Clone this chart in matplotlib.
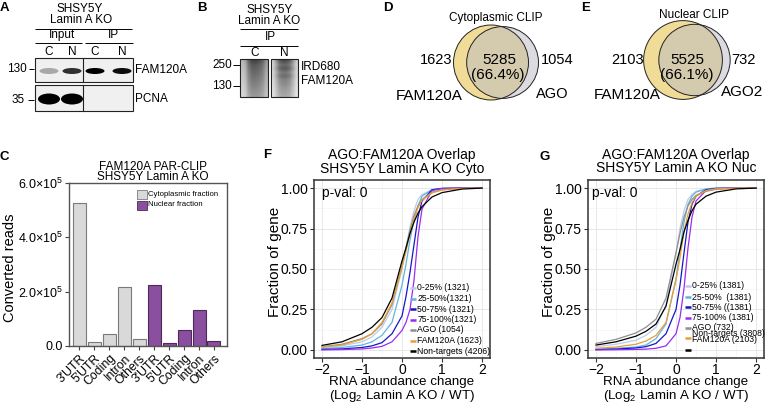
import numpy as np
import matplotlib.pyplot as plt
from matplotlib.patches import Rectangle, Ellipse, Circle
from matplotlib.ticker import MultipleLocator

plt.rcParams['font.family'] = ['Liberation Sans', 'DejaVu Sans']
plt.rcParams['mathtext.fontset'] = 'custom'
plt.rcParams['mathtext.rm'] = 'Liberation Sans'
plt.rcParams['mathtext.it'] = 'Liberation Sans:italic'
plt.rcParams['mathtext.bf'] = 'Liberation Sans:bold'

# ---- data ----
# A: western blot band darkness (Input C, Input N, IP C, IP N)
fam120a_band = [0.3, 0.8, 1.0, 0.95]
pcna_band = [1.0, 1.0, 0.0, 0.0]
# B: IRD680 smear darkness, rows top->bottom and columns across the lane
laneC_rows = [1.0, 0.9, 0.85, 0.8, 0.76, 0.72, 0.68, 0.64, 0.6, 0.56]
laneC_cols = [0.35, 0.45, 0.8, 0.95, 0.95, 0.9, 0.8, 0.55]
laneN_rows = [0.95, 0.8, 0.88, 0.72, 0.78, 0.66, 0.62, 0.56, 0.52, 0.48]
laneN_cols = [0.25, 0.55, 0.85, 0.95, 0.95, 0.85, 0.6, 0.3]

# D/E: venn counts (FAM120A only, shared, AGO only)
cyto_venn = [1623, 5285, 1054]
nuc_venn = [2103, 5525, 732]

# C: converted reads
regions = ["3'UTR", "5'UTR", "Coding", "Intron", "Others"]
cyto_reads = [5.27e5, 1.5e4, 4.3e4, 2.16e5, 2.6e4]
nuc_reads = [2.26e5, 1.0e4, 5.8e4, 1.31e5, 1.8e4]

# F/G: cumulative fraction of genes vs log2 fold change
cdf_x = [-2, -1.5, -1, -0.75, -0.5, -0.25, 0, 0.1, 0.2, 0.3, 0.4, 0.5, 0.75, 1, 1.5, 2]
cyto_q1 = [0.015, 0.025, 0.05, 0.08, 0.14, 0.25, 0.50, 0.63, 0.76, 0.86, 0.93, 0.96, 0.99, 0.998, 1.0, 1.0]
cyto_q2 = [0.008, 0.015, 0.03, 0.05, 0.09, 0.17, 0.40, 0.53, 0.68, 0.80, 0.89, 0.95, 0.99, 0.998, 1.0, 1.0]
cyto_q3 = [0.003, 0.006, 0.015, 0.025, 0.045, 0.10, 0.21, 0.33, 0.48, 0.65, 0.82, 0.92, 0.99, 0.998, 1.0, 1.0]
cyto_q4 = [0.0, 0.002, 0.006, 0.012, 0.022, 0.05, 0.12, 0.17, 0.25, 0.43, 0.70, 0.87, 0.985, 0.997, 1.0, 1.0]
cyto_ago = [0.02, 0.035, 0.07, 0.10, 0.16, 0.28, 0.52, 0.63, 0.74, 0.83, 0.89, 0.93, 0.975, 0.99, 0.998, 1.0]
cyto_fam = [0.018, 0.03, 0.065, 0.10, 0.17, 0.29, 0.51, 0.61, 0.72, 0.81, 0.88, 0.925, 0.97, 0.988, 0.998, 1.0]
cyto_non = [0.028, 0.05, 0.10, 0.14, 0.20, 0.32, 0.55, 0.63, 0.72, 0.79, 0.845, 0.885, 0.945, 0.972, 0.994, 1.0]

nuc_q1 = [0.02, 0.035, 0.06, 0.09, 0.14, 0.28, 0.60, 0.75, 0.86, 0.93, 0.96, 0.98, 0.995, 1.0, 1.0, 1.0]
nuc_q2 = [0.005, 0.01, 0.018, 0.03, 0.07, 0.16, 0.44, 0.62, 0.79, 0.90, 0.95, 0.975, 0.995, 1.0, 1.0, 1.0]
nuc_q3 = [0.002, 0.005, 0.012, 0.02, 0.04, 0.10, 0.25, 0.40, 0.60, 0.79, 0.90, 0.95, 0.99, 0.998, 1.0, 1.0]
nuc_q4 = [0.0, 0.001, 0.003, 0.005, 0.01, 0.025, 0.10, 0.20, 0.38, 0.63, 0.82, 0.92, 0.985, 0.997, 1.0, 1.0]
nuc_ago = [0.04, 0.065, 0.105, 0.14, 0.19, 0.32, 0.60, 0.72, 0.82, 0.89, 0.93, 0.955, 0.98, 0.992, 0.999, 1.0]
nuc_fam = [0.01, 0.018, 0.035, 0.055, 0.09, 0.17, 0.43, 0.57, 0.73, 0.84, 0.91, 0.95, 0.985, 0.995, 1.0, 1.0]
nuc_non = [0.03, 0.05, 0.085, 0.115, 0.16, 0.27, 0.53, 0.62, 0.73, 0.80, 0.86, 0.90, 0.95, 0.975, 0.995, 1.0]

cyto_labels = ["0-25% (1321)", "25-50%(1321)", "50-75% (1321)", "75-100%(1321)",
               "AGO (1054)", "FAM120A (1623)", "Non-targets (4206)"]
nuc_labels = ["0-25% (1381)", "25-50%  (1381)", "50-75% ((1381)", "75-100% (1381)",
              "AGO (732)", "Non-targets (3808)", "FAM120A (2103)"]

curve_colors = ["#bccbea", "#5db5e6", "#1616c8", "#9a2cf0", "#8f8f8f", "#e8a030", "black"]

# ---- layout helpers (pixel units) ----
W, H = 765, 404
fig = plt.figure(figsize=(W / 100, H / 100), dpi=100)


def px_box(l, t, r, b):
    return [l / W, 1 - b / H, (r - l) / W, (b - t) / H]


ov = fig.add_axes([0, 0, 1, 1])
ov.set_xlim(0, W)
ov.set_ylim(H, 0)
ov.axis('off')
ov.set_zorder(10)


def txt(x, y, s, size=8.5, ha='center', **kw):
    ov.text(x, y, s, fontsize=size, ha=ha, va='center', **kw)


def hline(x0, x1, y, lw=0.7):
    ov.plot([x0, x1], [y, y], color='k', lw=lw, solid_capstyle='butt')


for lab, x, y in [("A", 0, 8), ("B", 197, 8), ("D", 383, 8), ("E", 581, 8),
                  ("C", 0, 157), ("F", 263, 155), ("G", 540, 157)]:
    txt(x, y, lab, size=9.5, ha='left', weight='bold')

# ---- A: blot ----
txt(80, 9.5, "SHSY5Y")
txt(81, 20, "Lamin A KO")
hline(35, 132, 28.5)
txt(62, 35, "Input")
txt(113, 35, "IP")
hline(35, 82, 43)
hline(85, 133, 43)
lane_x = [49, 72, 95, 122]
for x, s in zip(lane_x, ["C", "N", "C", "N"]):
    txt(x, 52, s)
bg = np.array([0.94, 0.94, 0.94])
for top, bot, bands, bw, bh in [(58, 82, fam120a_band, 19, 6), (85, 111, pcna_band, 22, 11)]:
    ov.add_patch(Rectangle((35, top), 98, bot - top, fc=bg, ec='#222', lw=0.8))
    ov.plot([83.5, 83.5], [top, bot], color='#222', lw=0.8)
    yc = (top + bot) / 2 + 1
    for x, d in zip(lane_x, bands):
        if d > 0:
            ov.add_patch(Ellipse((x, yc), bw, bh, fc=bg * (1 - d), ec='none'))
txt(27, 68.5, "130", ha='right')
hline(29, 34, 68.5)
txt(25, 100, "35", ha='right')
hline(28, 34, 100)
txt(135, 70, "FAM120A", ha='left')
txt(135, 99, "PCNA", ha='left')

# ---- B: IRD680 smear ----
txt(270, 10, "SHSY5Y")
txt(269, 21, "Lamin A KO")
hline(240, 298, 29)
txt(270, 37.5, "IP")
hline(240, 298, 46)
txt(255, 53, "C")
txt(284, 53, "N")
for (l, r), rows, cols in [((240, 268), laneC_rows, laneC_cols), ((271, 298), laneN_rows, laneN_cols)]:
    ov.imshow(np.outer(rows, cols), cmap='gray_r', vmin=0, vmax=1.3, extent=(l, r, 97, 59),
              aspect='auto', interpolation='bilinear')
    ov.add_patch(Rectangle((l, 59), r - l, 38, fill=False, ec='#222', lw=0.8))
txt(232, 64.5, "250", ha='right')
hline(233, 240, 64.5)
txt(232, 86, "130", ha='right')
hline(233, 240, 86)
txt(301, 67, "IRD680", ha='left')
txt(301, 81, "FAM120A", ha='left')
ov.set_xlim(0, W)
ov.set_ylim(H, 0)

# ---- D/E: venns ----
VENN_SCALE = 0.451  # px per sqrt(gene)


def lens_area(d, r1, r2):
    if d >= r1 + r2:
        return 0.0
    if d <= abs(r1 - r2):
        return np.pi * min(r1, r2) ** 2
    a1 = r1 ** 2 * np.arccos((d * d + r1 * r1 - r2 * r2) / (2 * d * r1))
    a2 = r2 ** 2 * np.arccos((d * d + r2 * r2 - r1 * r1) / (2 * d * r2))
    a3 = 0.5 * np.sqrt((-d + r1 + r2) * (d + r1 - r2) * (d - r1 + r2) * (d + r1 + r2))
    return a1 + a2 - a3


def draw_venn(cx, cy, counts):
    only_a, both, only_b = counts
    ra = VENN_SCALE * np.sqrt(only_a + both)
    rb = VENN_SCALE * np.sqrt(only_b + both)
    target = np.pi * VENN_SCALE ** 2 * both
    lo, hi = abs(ra - rb), ra + rb
    for _ in range(60):
        mid = 0.5 * (lo + hi)
        if lens_area(mid, ra, rb) > target:
            lo = mid
        else:
            hi = mid
    d = 0.5 * (lo + hi)
    ov.add_patch(Circle((cx, cy), ra, fc="#f0dc96", ec='none'))
    ov.add_patch(Circle((cx + d, cy), rb, fc="#b9b9c4", alpha=0.5, ec='none'))
    ov.add_patch(Circle((cx, cy), ra, fill=False, ec='#222', lw=0.7))
    ov.add_patch(Circle((cx + d, cy), rb, fill=False, ec='#222', lw=0.7))
    return 100.0 * both / sum(counts)


pct = draw_venn(491, 62.5, cyto_venn)
txt(496, 17.5, "Cytoplasmic CLIP", size=8.5)
txt(452, 59.5, str(cyto_venn[0]), ha='right', size=10.5)
txt(499, 60, str(cyto_venn[1]), size=11)
txt(498, 75.5, f"({pct:.1f}%)", size=11)
txt(541, 59.5, str(cyto_venn[2]), ha='left', size=10.5)
txt(429, 96.5, "FAM120A", size=11)
txt(552, 93.5, "AGO", size=10.5)

pct = draw_venn(683, 60, nuc_venn)
txt(694, 15.5, "Nuclear CLIP", size=8.5)
txt(644, 60.5, str(nuc_venn[0]), ha='right', size=10.5)
txt(687, 60, str(nuc_venn[1]), size=11)
txt(687, 75, f"({pct:.1f}%)", size=11)
txt(731, 60, str(nuc_venn[2]), ha='left', size=10.5)
txt(627, 95, "FAM120A", size=11)
txt(742, 92, "AGO2", size=11)

# ---- C: bar chart ----
axc = fig.add_axes(px_box(69, 183, 227, 346))
xpos = np.arange(len(regions) * 2)
axc.bar(xpos[:5], cyto_reads, width=0.87, color="#d9d9d9", edgecolor="#7a7a7a", linewidth=0.8)
axc.bar(xpos[5:], nuc_reads, width=0.87, color="#8a4f9e", edgecolor="#4d2a5a", linewidth=0.8)
axc.set_xlim(-0.69, 9.87)
axc.set_ylim(0, 6e5)
axc.set_yticks([0, 2e5, 4e5, 6e5])
axc.set_yticklabels(["0.0", "2.0×10$^5$", "4.0×10$^5$", "6.0×10$^5$"])
axc.set_xticks(xpos)
axc.set_xticklabels(regions * 2, rotation=45, ha='right', rotation_mode='anchor')
axc.tick_params(axis='y', length=3, width=0.8, labelsize=9, pad=1.5, color='#444')
axc.tick_params(axis='x', length=3, width=0.8, labelsize=8.8, pad=1.5, color='#444')
for sp in axc.spines.values():
    sp.set_color('#555555')
    sp.set_linewidth(1.0)
txt(153, 166.5, "FAM120A PAR-CLIP", size=8.5)
txt(153, 177.5, "SHSY5Y Lamin A KO", size=8.5)
txt(10, 268, "Converted reads", size=10.5, rotation=90)
ov.add_patch(Rectangle((137, 190), 10, 9, fc="#d9d9d9", ec="#7a7a7a", lw=0.6))
ov.add_patch(Rectangle((137, 200.5), 10, 9, fc="#8a4f9e", ec="#4d2a5a", lw=0.6))
txt(148.5, 194.5, "Cytoplasmic fraction", size=5.6, ha='left')
txt(148.5, 205, "Nuclear fraction", size=5.6, ha='left')


# ---- F/G: cumulative plots ----
def cdf_panel(box, curves, subtitle, xc, pval_x):
    ax = fig.add_axes(px_box(*box))
    for y, c in zip(curves, curve_colors):
        ax.plot(cdf_x, y, color=c, lw=0.9)
    ax.set_xlim(-2.2, 2.2)
    ax.set_ylim(-0.05, 1.05)
    ax.set_xticks([-2, -1, 0, 1, 2])
    ax.set_yticks([0, 0.25, 0.5, 0.75, 1.0])
    ax.set_yticklabels(["0.00", "0.25", "0.50", "0.75", "1.00"])
    ax.xaxis.set_minor_locator(MultipleLocator(0.5))
    ax.yaxis.set_minor_locator(MultipleLocator(0.125))
    ax.grid(which='major', color='#e3e3e3', lw=0.6)
    ax.grid(which='minor', color='#f1f1f1', lw=0.4)
    ax.set_axisbelow(True)
    ax.tick_params(which='major', length=3, width=0.8, color='#333333', labelsize=10, pad=1.5)
    ax.tick_params(axis='x', pad=0.8)
    ax.tick_params(which='minor', length=0)
    for sp in ax.spines.values():
        sp.set_color('#333333')
        sp.set_linewidth(1.1)
    txt(xc, 154.5, "AGO:FAM120A Overlap", size=10)
    txt(xc, 168.5, subtitle, size=10)
    txt(xc, 382.3, "RNA abundance change", size=9.6)
    txt(xc, 396, "(Log$_2$ Lamin A KO / WT)", size=9.6)
    txt(box[0] - 39, 262, "Fraction of gene", size=11, rotation=90)
    txt(pval_x, 193, "p-val: 0", size=10, ha='left')
    return ax


cdf_panel((314, 180, 490, 358), [cyto_q1, cyto_q2, cyto_q3, cyto_q4, cyto_ago, cyto_fam, cyto_non],
          "SHSY5Y Lamin A KO Cyto", 402, 322)
cdf_panel((588, 180, 764, 358), [nuc_q1, nuc_q2, nuc_q3, nuc_q4, nuc_ago, nuc_fam, nuc_non],
          "SHSY5Y Lamin A KO Nuc", 676, 592)

# legends (F regular, G with its shifted rows as in the reference)
f_rows = [288, 298.5, 309, 319.5, 330, 340.5, 351]
for y, c, lab in zip(f_rows, curve_colors, cyto_labels):
    ov.plot([410, 416], [y, y], color=c, lw=1.8, solid_capstyle='butt')
    txt(417.5, y, lab, size=6.2, ha='left')
g_key_rows = [286, 297, 307, 318, 328, 338, 350]
g_txt_rows = [286, 297, 307, 318, 327, 333, 339]
for y, c in zip(g_key_rows, curve_colors):
    ov.plot([685, 691.5], [y, y], color=c, lw=1.8, solid_capstyle='butt')
for y, lab in zip(g_txt_rows, nuc_labels):
    txt(692.5, y, lab, size=6.2, ha='left')

fig.savefig("out.png", dpi=100)
